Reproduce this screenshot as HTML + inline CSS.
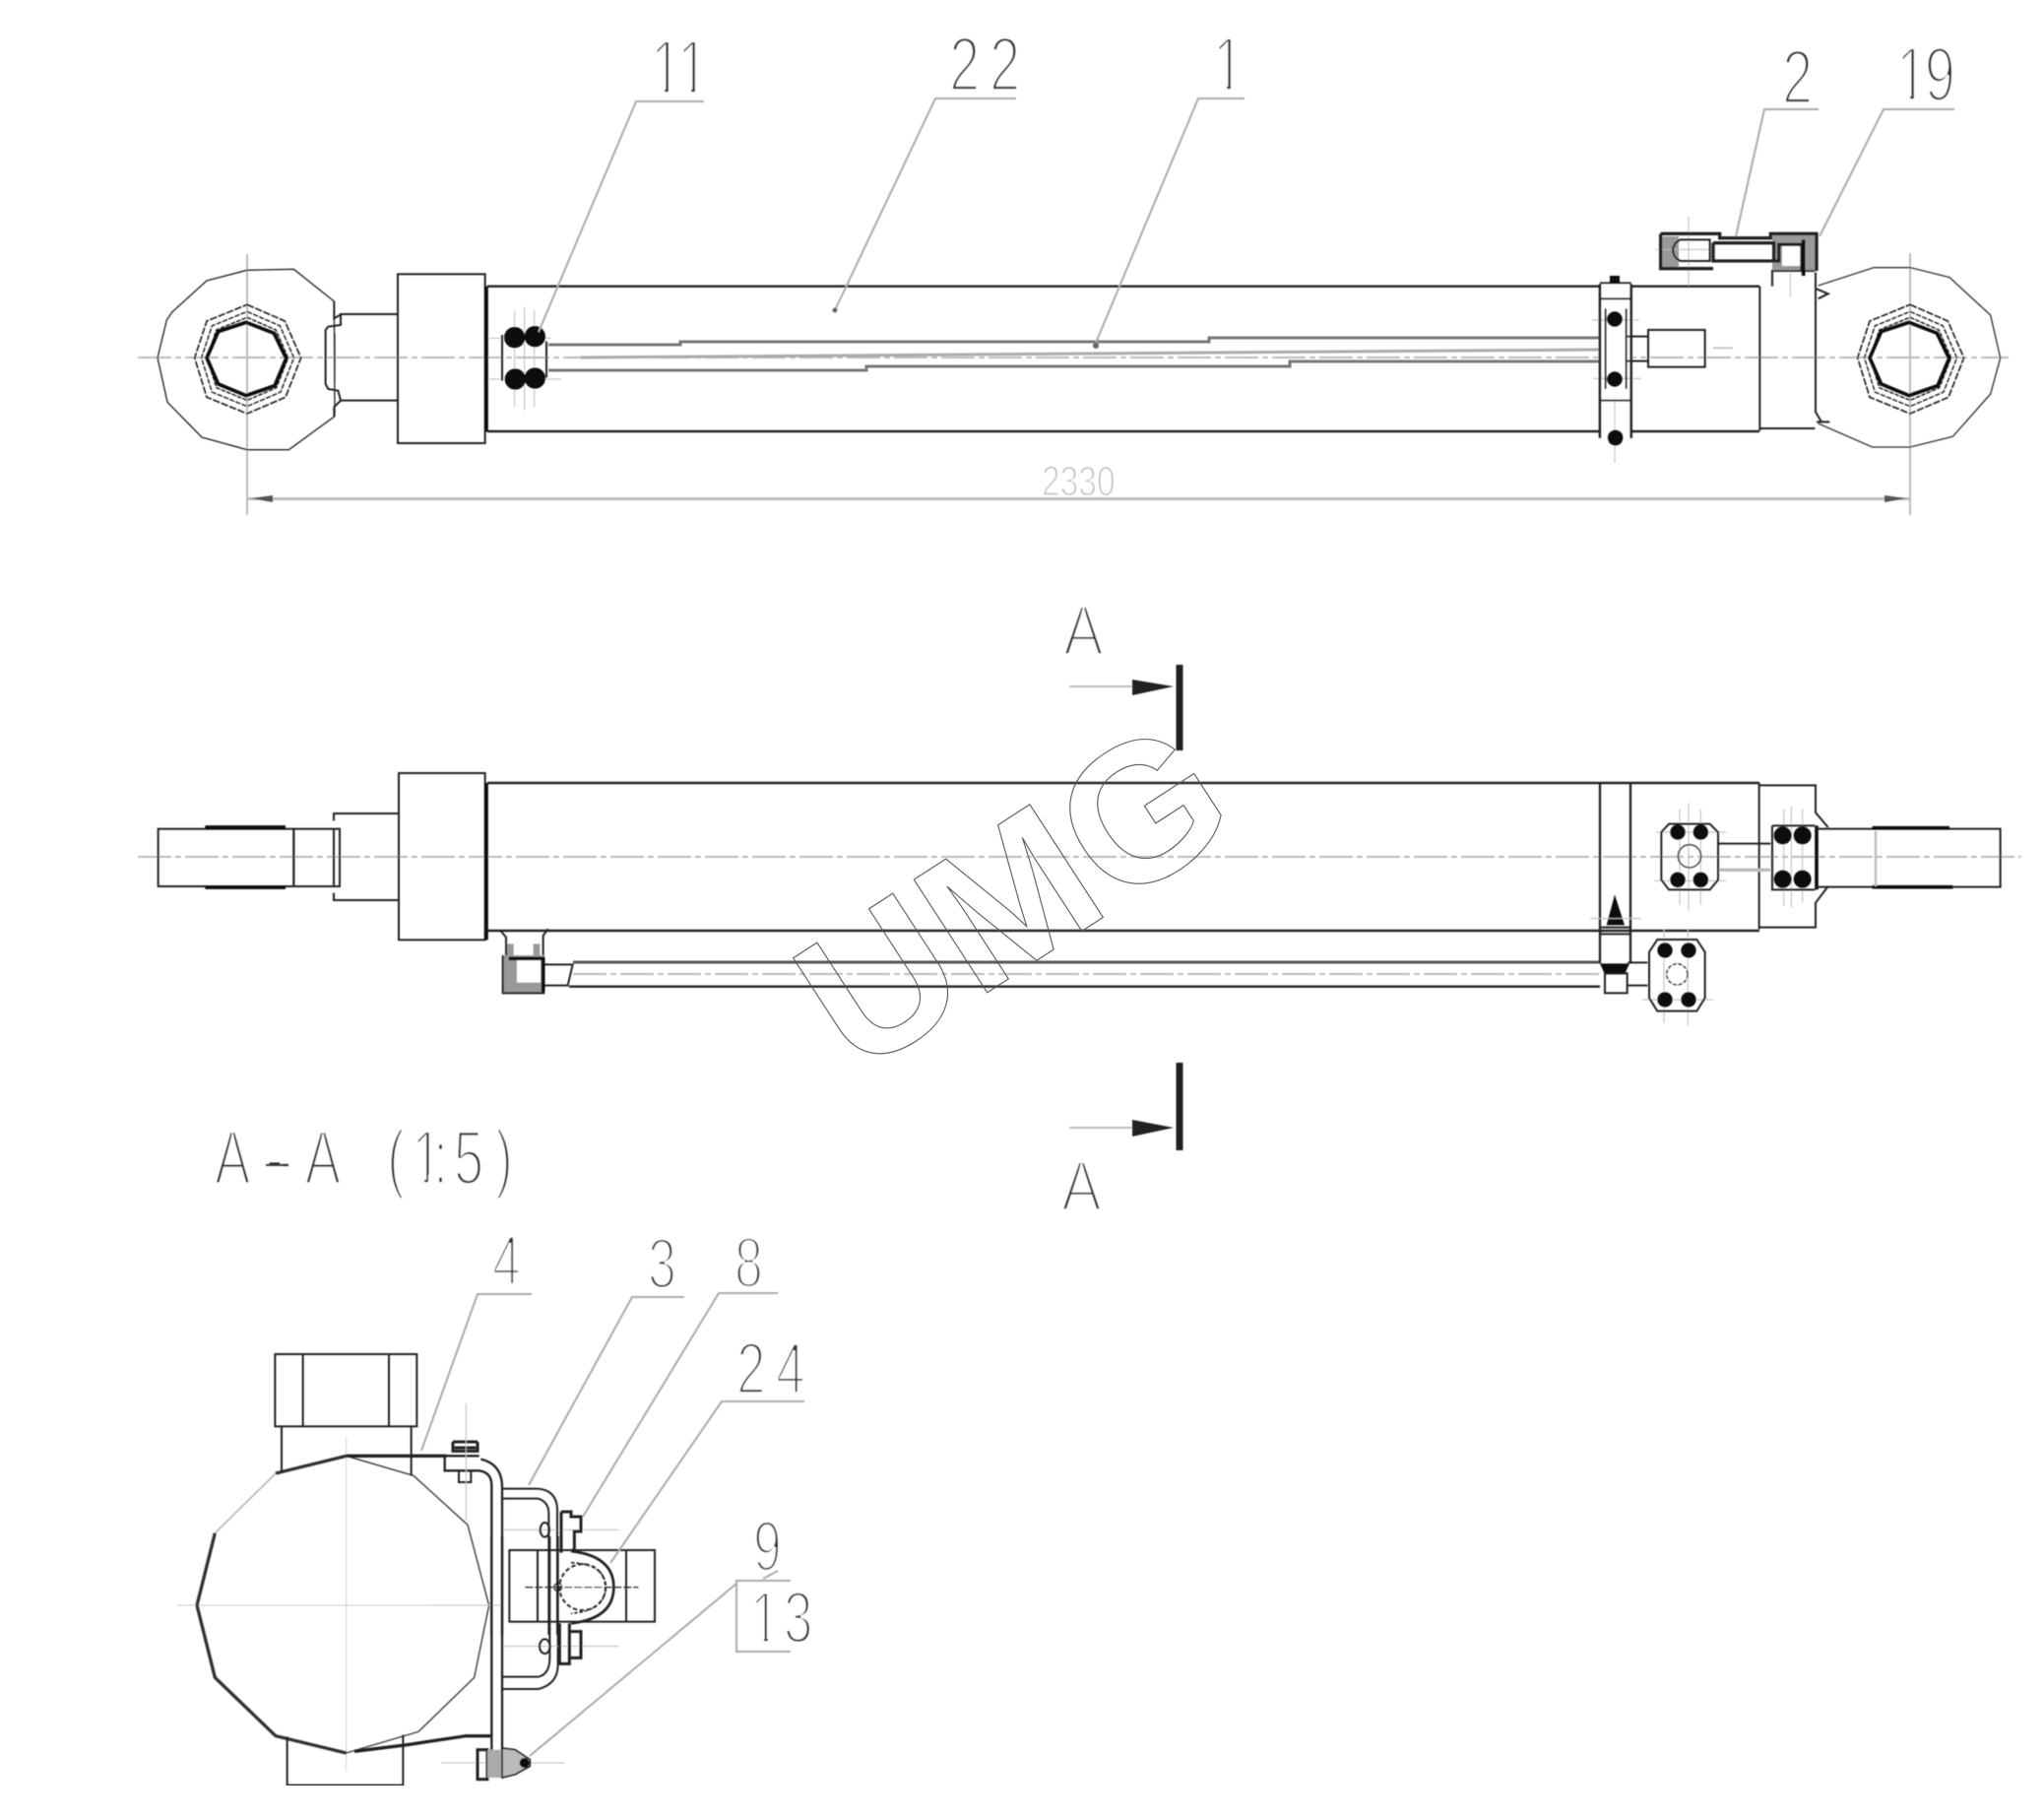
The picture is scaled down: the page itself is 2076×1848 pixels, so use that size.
<!DOCTYPE html>
<html><head><meta charset="utf-8"><style>
html,body{margin:0;padding:0;background:#fff}
svg{display:block}
.c{fill:none;stroke:#bbb;stroke-width:2;stroke-dasharray:34 4 6 4}
.l{fill:none;stroke:#bbb;stroke-width:2}
.u{fill:none;stroke:#aaa;stroke-width:2}
.k{fill:none;stroke:#222;stroke-width:2.4}
.z{fill:none;stroke:#222;stroke-width:6}
.zt{fill:none;stroke:#333;stroke-width:4}
.zg{fill:none;stroke:#bbb;stroke-width:5}
.zb{fill:none;stroke:#111;stroke-width:11}
.f{fill:#111}
.h{fill:#999;stroke:none}
.t{font-family:"Liberation Sans",sans-serif;fill:#333;stroke:#fff;stroke-width:3.4;font-size:78px}
</style></head><body>
<svg width="2076" height="1848" viewBox="0 0 2076 1848" xmlns="http://www.w3.org/2000/svg">
<rect width="2076" height="1848" fill="#fff"/>
<defs>
<g id="rings">
<polygon class="z" stroke-dasharray="22 5" style="stroke-width:5" points="0,-162 115,-112 164,0 117,120 0,170 -123,120 -160,0 -123,-112"/>
<polygon class="z" stroke-dasharray="18 5" style="stroke-width:5" transform="scale(.87)" points="0,-162 115,-112 164,0 117,120 0,170 -123,120 -160,0 -123,-112"/>
<polygon class="z" stroke-dasharray="18 5" style="stroke-width:6" transform="scale(.76)" points="0,-162 115,-112 164,0 117,120 0,170 -123,120 -160,0 -123,-112"/>
<polygon fill="none" stroke="#111" stroke-width="11" points="-3,-108 82,-75 119,2 84,85 -3,115 -88,80 -123,0 -88,-80"/>
</g>
</defs>
<g filter="url(#b)">
<filter id="b" x="0" y="0" width="1" height="1"><feGaussianBlur stdDeviation=".4"/></filter>

<!-- TOP VIEW -->
<path class="c" d="M140 363H2040"/>
<path class="c" style="stroke-dasharray:none" d="M251 258V523M1940 257V523"/>
<path class="l" style="stroke-width:3" d="M251 506.5H1940"/>
<path fill="#555" d="M255 506l22-3v7zM1936 506l-22-3v7z"/>
<path fill="none" stroke="#777" stroke-width="3" d="M557 350H691V347H1228V343H1625M557 376H880V372H1310V367H1625"/>
<path fill="none" stroke="#aaa" stroke-width="3" d="M590 363L1625 355"/>
<path class="k" d="M495 290.7H1787M495 438H1787"/>

<g transform="translate(130 240) scale(.33333)">
<polygon class="z" style="stroke-width:4" points="628,198 505,100 363,103 240,135 135,230 118,255 90,370 120,505 225,612 363,650 490,650 630,548"/>
<path class="z" d="M628 198V250L648 238V270L610 275L602 285V450L610 465L640 470L648 500L628 520V548"/>
<path class="zt" d="M630 295V445"/>
<use href="#rings" x="363" y="370"/>
<path class="z" d="M645 237H822M645 500H822"/>
<rect class="z" x="822" y="115" width="266" height="515"/>
<path class="zb" d="M1092 152V595"/>
<path class="zg" style="stroke-width:3" d="M1178 225V520M1208 215V530M1238 225V520M1100 310H1290M1100 435H1320"/>
<path class="z" d="M1140 300V440M1275 320V430"/>
<circle class="f" cx="1178" cy="308" r="32"/><circle class="f" cx="1240" cy="305" r="32"/>
<circle class="f" cx="1180" cy="435" r="32"/><circle class="f" cx="1240" cy="432" r="32"/>
</g>

<g transform="translate(1580 30) scale(.33333)">
<path class="z" d="M622 782V1222M620 1215H790M792 740V1165L810 1195M660 782V735H790"/>
<path class="zt" d="M800 780L970 725H1080L1200 755L1325 870L1355 1000L1325 1110L1210 1240L1080 1272H965L800 1200"/>
<path class="z" d="M795 790L830 805L800 820M795 1195L835 1195"/>
<use href="#rings" x="1080" y="1000"/>
<rect x="135" y="770" width="95" height="485" fill="#fff"/>
<path class="zg" style="stroke-width:3" d="M110 885H255M115 1063H260M180 1130V1320"/>
<path class="z" style="stroke-width:8" d="M135 775V1245M230 775V1245"/>
<path class="z" d="M135 772H230M135 820H230M135 1130H230M152 850V1095M215 850V1095"/>
<rect class="f" x="165" y="750" width="30" height="22"/>
<circle class="f" cx="180" cy="882" r="24"/><circle class="f" cx="180" cy="1065" r="24"/><circle class="f" cx="182" cy="1243" r="24"/>
<path class="z" d="M215 935H280M215 1010H280"/>
<rect class="z" x="282" y="915" width="173" height="113"/>
<path class="zg" d="M480 970H540"/>
<rect class="h" x="325" y="630" width="50" height="95"/>
<rect class="h" x="660" y="625" width="132" height="108"/>
<rect x="690" y="655" width="60" height="65" fill="#fff"/>
<path class="zg" style="stroke-width:3" d="M405 570V780M305 670H480M715 740V815"/>
<path class="z" style="stroke-width:10" d="M320 622H500V635H655V622H795V735M320 622V728H480M480 650V705H680V655H750V735M480 650H665V705"/>
<path class="z" d="M380 640H470V705H380C350 690 350 655 380 640"/>
<path class="zb" d="M755 640V750"/>
</g>

<!-- MIDDLE VIEW -->
<path class="c" d="M140 870H2053"/>
<path class="k" d="M495 795H1787M495 945H1787"/>
<path fill="none" stroke="#555" stroke-width="3" d="M582 977H1625"/>
<path class="k" d="M578 1001.7H1625"/>
<path class="c" d="M582 989H1625"/>

<g transform="translate(140 770) scale(.33333)">
<rect class="z" x="62" y="215" width="413" height="175"/>
<rect class="z" x="475" y="215" width="140" height="175"/>
<path class="z" d="M597 215V390"/>
<path class="zb" d="M205 210H450M205 393H450"/>
<path class="z" d="M597 190V168H795M597 410V432H795"/>
<rect class="z" x="795" y="45" width="263" height="508"/>
<path class="zb" d="M1062 75V553"/>
<rect class="h" x="1112" y="600" width="128" height="115"/>
<rect x="1155" y="615" width="72" height="68" fill="#fff"/>
<path class="h" d="M1125 565h20v45h-20zM1205 565h20v45h-20z"/>
<path class="z" d="M1065 525H1105L1122 545V600M1250 520L1235 540V600"/>
<path class="zb" d="M1130 610H1240M1235 610V712"/>
<path class="z" d="M1240 628H1325L1310 692H1240M1112 600V715H1240"/>
</g>

<g transform="translate(1580 780) scale(.33333)">
<path class="z" d="M620 45V490M620 52H792V135L830 180M620 485H792V410L830 360"/>
<path class="z" style="stroke-width:7" d="M135 45V595M228 45V595"/>
<path class="z" d="M135 485H228M135 505H228"/>
<path class="f" d="M180 385L155 478H210Z"/>
<path class="f" d="M135 595H225L210 628H150Z"/>
<rect class="z" x="150" y="625" width="68" height="60"/>
<path class="zg" style="stroke-width:3" d="M105 458H260"/>
<path class="z" d="M220 592H280M220 662H280"/>
<path class="zg" style="stroke-width:3" d="M330 490V775M403 490V785M265 705H480"/>
<polygon class="z" points="285,560 310,522 430,522 455,560 455,700 430,740 310,740 285,700"/>
<circle class="f" cx="333" cy="555" r="23"/><circle class="f" cx="405" cy="555" r="23"/><circle class="f" cx="333" cy="705" r="23"/><circle class="f" cx="405" cy="705" r="23"/>
<circle class="zt" cx="370" cy="628" r="32" stroke-dasharray="12 5"/>
<path class="zg" style="stroke-width:3" d="M378 125V415M405 105V435M442 125V415M305 195H520M300 343H520"/>
<polygon class="z" points="322,195 345,170 470,170 495,195 495,340 470,370 345,370 322,340"/>
<circle class="f" cx="372" cy="195" r="23"/><circle class="f" cx="442" cy="195" r="23"/><circle class="f" cx="372" cy="340" r="23"/><circle class="f" cx="442" cy="340" r="23"/>
<circle class="zt" cx="408" cy="268" r="35"/>
<path class="z" d="M498 230H655"/>
<path class="zg" style="stroke-width:10" d="M498 310H655"/>
<path class="zg" style="stroke-width:3" d="M695 125V420M718 115V425M752 125V410"/>
<path class="z" d="M660 175H790M660 175V370H790"/>
<path class="zb" d="M795 175V370"/>
<circle class="f" cx="692" cy="205" r="27"/><circle class="f" cx="752" cy="205" r="27"/><circle class="f" cx="692" cy="338" r="27"/><circle class="f" cx="752" cy="338" r="27"/>
<path class="z" d="M795 185H1355V362H795"/>
<path class="zb" d="M965 182H1200M965 362H1210"/>
<path class="zg" style="stroke-width:7" d="M975 190V360"/>
</g>

<!-- SECTION MARKS -->
<path stroke="#222" stroke-width="7" d="M1198 675V762M1198 1079V1168" fill="none"/>
<path fill="#222" d="M1150 690L1192 697L1150 706ZM1150 1137L1192 1145L1150 1154Z"/>
<path class="l" d="M1086 697H1150M1086 1145H1150"/>

<!-- SECTION VIEW -->
<g transform="translate(180 1370) scale(.33333)">
<path class="c" style="stroke-dasharray:none" d="M0 780H990M515 270V1285"/>
<polygon class="zt" points="60,780 115,560 300,378 515,325 720,385 885,535 950,780 905,1000 735,1165 515,1230 300,1178 115,1000"/>
<path fill="none" stroke="#333" stroke-width="10" d="M60 780L115 560M300 378L515 325M60 780L115 1000L300 1178L515 1230"/>
<path class="zg" d="M115 560L300 378"/>
<rect class="z" x="298" y="15" width="432" height="220"/>
<path class="z" d="M383 15V235M645 15V235M318 235V375M713 235V385M335 1180V1328H688V1175"/>
<path class="z" style="stroke-width:10" d="M515 325H820M540 1225L700 1205L880 1178H955"/>
</g>
<g transform="translate(440 1260) scale(.33333)">
<path class="z" style="stroke-width:7" d="M0 655H140M35 660V700H140Q178 705 178 745V1200M145 665Q210 680 210 750V1200"/>
<path class="z" style="stroke-width:9" d="M60 612H135M65 630H130M60 612V640H135V612"/>
<path class="z" d="M78 700V735H115V700"/>
<path class="zg" style="stroke-width:3" d="M100 495V850M215 880H565"/>
<path class="z" d="M210 755H320Q375 760 378 815V1200M210 785H320Q352 795 352 830V1200"/>
<path class="z" style="stroke-width:9" d="M390 825V950M390 825H420V840H450V885H430V940L420 945"/>
<ellipse class="z" cx="340" cy="880" rx="14" ry="22"/>
<rect class="z" x="232" y="942" width="443" height="218"/>
<path class="z" d="M318 942V1160M588 942V1160"/>
<path class="z" style="stroke-width:8" d="M420 945Q550 960 550 1055Q550 1150 420 1165"/>
<circle cx="455" cy="1055" r="70" fill="#fff" stroke="#333" stroke-width="7" stroke-dasharray="14 7"/>
<path class="z" style="stroke-width:5" stroke-dasharray="10 6" d="M420 980Q525 985 525 1055Q525 1125 420 1135"/>
<circle class="zt" cx="380" cy="1055" r="12"/>
<path class="zt" stroke-dasharray="24 6" d="M280 1055H625"/>
<path class="zg" style="stroke-width:3" d="M0 1110H215"/>
</g>
<g transform="translate(440 1560) scale(.33333)">
<path class="z" style="stroke-width:7" d="M178 0V720M210 0V735"/>
<path class="z" d="M355 0V370Q355 420 320 428H210M380 0V390Q380 450 320 465H210"/>
<path class="zg" style="stroke-width:3" d="M215 335H565M25 690H400"/>
<path class="z" style="stroke-width:9" d="M385 265V388H415V265M415 290H450V370H415"/>
<ellipse class="z" cx="340" cy="335" rx="16" ry="22"/>
<rect class="z" style="stroke-width:9" x="135" y="650" width="30" height="90"/>
<rect class="h" x="165" y="650" width="45" height="85" style="fill:#aaa"/>
<path d="M210 645L250 650L295 680V700L250 725L210 735Z" fill="#bbb" stroke="#222" stroke-width="5"/>
<circle class="f" cx="278" cy="690" r="15"/>
</g>

<!-- LEADERS -->
<path class="u" d="M715 103H646L547 337M1032 100H950L848 315M1264 100H1217L1113 348M1847 111H1792L1763 240M1985 111H1913L1848 240"/>
<path class="u" d="M540 1314H485L428 1473M695 1317H642L537 1508M790 1313H730L592 1540M817 1423H733L620 1587"/>
<path class="u" d="M803 1605H748V1677H803M748 1608L538 1783"/>
<path class="u" d="M790 1595L775 1603"/>
<circle cx="848" cy="315" r="2.5" fill="#666"/><circle cx="1113" cy="351" r="3" fill="#666"/>

<!-- LABELS -->
<text class="t" transform="translate(661 95) scale(.72 1)" x="0 37.5">11</text>
<text class="t" transform="translate(964 92) scale(.72 1)" x="0 57">22</text>
<text class="t" transform="translate(1232 92) scale(.72 1)">1</text>
<text class="t" transform="translate(1810 105) scale(.72 1)">2</text>
<text class="t" transform="translate(1926 102) scale(.72 1)" x="0 40">19</text>
<text class="t" transform="translate(1058 503) scale(.78 1)" style="font-size:43px;fill:#bbb;stroke-width:1.6">2330</text>
<text class="t" transform="translate(1080 665) scale(.85 1)" style="font-size:72px">A</text>
<text class="t" transform="translate(1078 1229) scale(.85 1)" style="font-size:72px">A</text>
<text class="t" transform="translate(218 1202) scale(.7 1)" x="0 74 131 200 250 286 317 347 407">A-A (1:5)</text>
<path stroke="#333" stroke-width="2.2" d="M270 1183H293"/>
<text class="t" transform="translate(500 1305) scale(.72 1)" style="font-size:72px">4</text>
<text class="t" transform="translate(658 1308) scale(.72 1)" style="font-size:72px">3</text>
<text class="t" transform="translate(746 1307) scale(.72 1)" style="font-size:72px">8</text>
<text class="t" transform="translate(748 1415) scale(.72 1)" x="0 55.5" style="font-size:74px">24</text>
<text class="t" transform="translate(765 1595) scale(.72 1)" style="font-size:72px">9</text>
<text class="t" transform="translate(762 1668) scale(.72 1)" x="0 47" style="font-size:74px">13</text>
<!-- trim serif feet of the digit one -->
<path fill="#fff" d="M663 86h12v9h-12zM679 86h11v9h-11zM690 86h12v9h-12zM706 86h13v9h-13zM1234 83h12v9h-12zM1250 83h13v9h-13zM1928 93h12v9h-12zM1944 93h11v9h-11zM420 1193h11v9h-11zM435 1193h9v9h-9zM764 1659h12v9h-12zM780 1659h14v9h-14z"/>
</g>

<!-- WATERMARK -->
<text transform="translate(870 1094) rotate(-33) scale(1.09 1.08)" font-family="'Liberation Sans',sans-serif" font-weight="700" font-size="184" fill="none" stroke="#555" stroke-width="1">UMG</text>
</svg>
</body></html>
